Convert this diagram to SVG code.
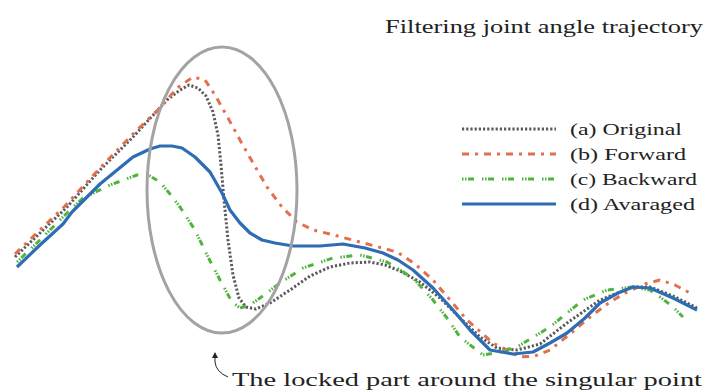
<svg xmlns="http://www.w3.org/2000/svg" width="706" height="392" viewBox="0 0 706 392">
<style>
.t{font-family:"Liberation Serif","DejaVu Serif",serif;fill:#222}
.c{fill:none;stroke-linejoin:round;stroke-width:3}
.orig{stroke:#5a5a5a;stroke-dasharray:2.2 2}
.fwd{stroke:#e2704f;stroke-dasharray:7 6 3 6}
.bwd{stroke:#4fb33e;stroke-dasharray:1.5 1.5 1.5 1.5 6 8}
.avg{stroke:#2e6db4;stroke-width:3.2}
</style>
<defs>
<marker id="ah" markerWidth="6" markerHeight="6" refX="3" refY="3" orient="auto" markerUnits="userSpaceOnUse">
<path d="M0,0 L6,3 L0,6 Z" fill="#222"/>
</marker>
</defs>
<rect width="706" height="392" fill="#fff"/>
<text id="title" class="t" x="385" y="33" font-size="19" textLength="318" lengthAdjust="spacingAndGlyphs">Filtering joint angle trajectory</text>
<g id="curves">
<path id="original" class="c orig" d="M15,257 L40,233 L67,207 L100,170 L133,137 L167,100 L180,90 L189,85 L198,88 L206,96 L213,112 L218,135 L221,165 L224,200 L228,240 L233,275 L239,298 L246,307 L256,309 L270,303 L290,290 L310,276 L330,267 L350,263 L370,262 L385,265 L400,271 L420,282 L440,298 L460,318 L480,337 L497,348 L517,350 L540,344 L567,323 L600,300 L633,287 L650,287 L673,296 L697,308"/>
<path id="forward" class="c fwd" d="M15,254 L40,230 L65,206 L100,168 L133,134 L160,108 L177,88 L193,77 L205,80 L215,95 L228,118 L240,140 L253,163 L267,187 L282,207 L297,222 L313,230 L330,234 L360,242 L397,252 L415,264 L433,280 L450,300 L467,320 L493,343 L520,357 L535,356 L550,350 L570,334 L590,317 L610,302 L627,292 L645,284 L660,280 L675,285 L690,293"/>
<path id="backward" class="c bwd" d="M17,262 L40,240 L65,215 L83,198 L110,185 L137,175 L150,176 L160,182 L170,194 L180,207 L195,230 L207,255 L220,280 L232,302 L240,308 L250,305 L260,298 L280,283 L303,268 L333,258 L360,255 L387,262 L413,278 L433,300 L447,318 L460,337 L483,355 L500,352 L517,347 L550,327 L583,300 L607,290 L633,287 L650,290 L660,297 L672,306 L683,317"/>
<path id="averaged" class="c avg" d="M17,267 L40,245 L63,224 L72,212 L100,184 L133,157 L150,149 L160,146 L172,146 L182,148 L195,157 L210,172 L222,193 L230,210 L240,223 L250,233 L262,240 L275,243 L293,246 L320,246 L343,244 L365,248 L383,253 L398,260 L413,270 L433,288 L453,310 L470,330 L490,350 L513,354 L533,352 L550,343 L567,333 L585,318 L600,303 L618,293 L633,287 L650,288 L673,298 L697,310"/>
</g>
<g id="singular-region">
<ellipse cx="222" cy="190" rx="75" ry="143" fill="none" stroke="#a3a3a3" stroke-width="3"/>
</g>
<g id="legend">
<line class="c orig" x1="462" y1="129" x2="556" y2="129"/>
<text class="t" x="570" y="135" font-size="17.5" textLength="112" lengthAdjust="spacingAndGlyphs">(a) Original</text>
<line class="c fwd" x1="462" y1="154" x2="556" y2="154"/>
<text class="t" x="570" y="160" font-size="17.5" textLength="116" lengthAdjust="spacingAndGlyphs">(b) Forward</text>
<line class="c bwd" x1="462" y1="179" x2="556" y2="179"/>
<text class="t" x="570" y="185" font-size="17.5" textLength="127" lengthAdjust="spacingAndGlyphs">(c) Backward</text>
<line class="c avg" x1="462" y1="204" x2="556" y2="204"/>
<text class="t" x="570" y="210" font-size="17.5" textLength="125" lengthAdjust="spacingAndGlyphs">(d) Avaraged</text>
</g>
<g id="connectors">
<path d="M228,377 Q216,372 215,362 L215,355" fill="none" stroke="#222" stroke-width="1" marker-end="url(#ah)"/>
</g>
<text id="note" class="t" x="232" y="386" font-size="19" textLength="470" lengthAdjust="spacingAndGlyphs">The locked part around the singular point</text>
</svg>
